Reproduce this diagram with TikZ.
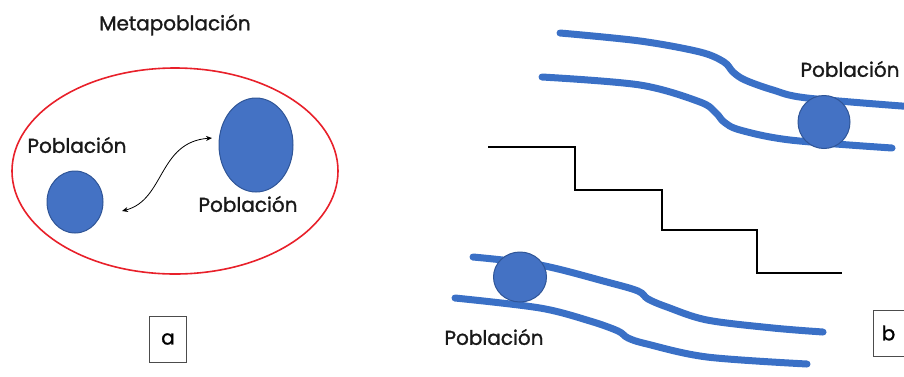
\documentclass[tikz,border=0pt]{standalone}
\usepackage{fontspec}
\setmainfont{Poppins}[BoldFont={Poppins}, BoldFeatures={FakeBold=1.3}]
\usetikzlibrary{arrows.meta,shapes.geometric}
\definecolor{popblue}{HTML}{4472C4}
\definecolor{popedge}{HTML}{2F5597}
\definecolor{riverblue}{HTML}{3A70C6}
\definecolor{metared}{HTML}{E8202A}
\begin{document}
\begin{tikzpicture}[x=1pt,y=-1pt,
  lbl/.style={font=\fontsize{20}{23}\selectfont\bfseries, inner sep=0pt, text=black!90},
  pop/.style={ellipse, fill=popblue, draw=popedge, line width=1pt, inner sep=0pt},
  riverline/.style={draw=riverblue, line width=7pt, line cap=round},
  stair/.style={draw=black, line width=1.6pt},
  tag/.style={draw=black!70, line width=1pt, minimum width=37pt, minimum height=46pt, inner sep=0pt, font=\fontsize{20}{23}\selectfont\bfseries},
  link/.style={draw=black, line width=0.8pt, {Stealth[length=6pt,width=5pt]}-{Stealth[length=6pt,width=5pt]}}
]
\useasboundingbox (0,0) rectangle (904,376);
% ---------- panel a ----------
\node[lbl] (meta) at (175,25) {Metapoblación};
\node[ellipse, draw=metared, line width=1.6pt, minimum width=326pt, minimum height=206pt, inner sep=0pt] (metaell) at (175,171) {};
\node[pop, minimum width=56pt, minimum height=62pt] (small) at (75,202) {};
\node[pop, minimum width=74pt, minimum height=94pt] (big) at (256,145) {};
\node[lbl] (lblA) at (77,145) {Población};
\node[lbl] (lblB) at (248,204) {Población};
\coordinate (arrL) at (122,211);
\coordinate (arrR) at (212,138);
\draw[link] (arrL) .. controls (165,200) and (158,142) .. (arrR);
\node[tag] (taga) at (168,339) {a};
% ---------- panel b ----------
\draw[riverline] plot[smooth, tension=0.55] coordinates {(560,33) (640,41) (700,52) (724,62) (733,72) (745,80) (773,90) (807,98) (915,107)};
\draw[riverline] plot[smooth, tension=0.55] coordinates {(542,77) (640,85) (700,102) (716,113) (724,122) (740,130) (790,140) (892,148)};
\draw[riverline] plot[smooth, tension=0.55] coordinates {(473,257) (540,265) (607,282) (638,291) (648,299) (667,307) (707,320) (773,328) (823,332)};
\draw[riverline] plot[smooth, tension=0.55] coordinates {(455,298) (540,308) (590,321) (618,331) (628,338) (647,344) (707,357) (807,364)};
\node[pop, minimum width=52pt, minimum height=53pt] (upper) at (824,122) {};
\node[pop, minimum width=53pt, minimum height=50pt] (lower) at (520,277) {};
\node[lbl] (lblC) at (850,69) {Población};
\node[lbl] (lblD) at (494,337) {Población};
\draw[stair] (488,147) -- (575,147) -- (575,190) -- (662,190) -- (662,230) -- (757,230) -- (757,273) -- (842,273);
\node[tag, minimum width=40pt, anchor=west] (tagb) at (873,333) {\hspace*{-10pt}b};
\end{tikzpicture}
\end{document}
